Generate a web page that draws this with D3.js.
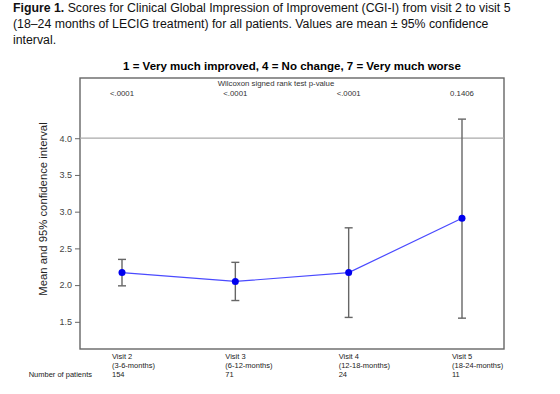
<!DOCTYPE html>
<html>
<head>
<meta charset="utf-8">
<script src="https://cdn.jsdelivr.net/npm/d3@7"></script>
<style>
body { margin: 0; background: #fff; }
text { font-family: "Liberation Sans", Arial, sans-serif; }
</style>
</head>
<body>
<script>
// data
var visits = ["Visit 2", "Visit 3", "Visit 4", "Visit 5"];
var periods = ["(3-6-months)", "(6-12-months)", "(12-18-months)", "(18-24-months)"];
var patients = [154, 71, 24, 11];
var pValues = ["<.0001", "<.0001", "<.0001", "0.1406"];
var means = [2.17, 2.05, 2.17, 2.91];
var lower = [1.99, 1.79, 1.56, 1.55];
var upper = [2.35, 2.31, 2.78, 4.26];
var yTicks = [1.5, 2.0, 2.5, 3.0, 3.5, 4.0];

var W = 560, H = 394;
var plot = { left: 80, right: 504, top: 78, bottom: 349 };

var svg = d3.select("body").append("svg")
   .attr("width", W)
   .attr("height", H);

// caption
var cap = svg.append("text").attr("x", 13).attr("y", 12).style("font-size", "12.3px").attr("fill", "#111");
cap.append("tspan").style("font-weight", "bold").text("Figure 1.");
cap.append("tspan").text(" Scores for Clinical Global Impression of Improvement (CGI-I) from visit 2 to visit 5");
svg.append("text").attr("x", 13).attr("y", 28).style("font-size", "12.3px").attr("fill", "#111")
   .text("(18\u201324 months of LECIG treatment) for all patients. Values are mean \u00b1 95% confidence");
svg.append("text").attr("x", 13).attr("y", 44).style("font-size", "12.3px").attr("fill", "#111")
   .text("interval.");

var x = d3.scalePoint().domain(visits).range([122, 462]);
var y = d3.scaleLinear().domain([1.13, 4.82]).range([plot.bottom, plot.top]);

// chart title
svg.append("text")
   .attr("x", (plot.left + plot.right) / 2).attr("y", 70)
   .attr("text-anchor", "middle")
   .style("font-size", "11.5px").style("font-weight", "bold")
   .text("1 = Very much improved, 4  = No change, 7 = Very much worse");

// frame
svg.append("rect")
   .attr("x", plot.left).attr("y", plot.top)
   .attr("width", plot.right - plot.left).attr("height", plot.bottom - plot.top)
   .attr("fill", "none").attr("stroke", "#666").attr("stroke-width", 1.4);

// reference line at 4
svg.append("line")
   .attr("x1", plot.left).attr("x2", plot.right)
   .attr("y1", y(4)).attr("y2", y(4))
   .attr("stroke", "#aaa").attr("stroke-width", 1.2);

// y axis
var yAxis = d3.axisLeft(y).tickValues(yTicks).tickFormat(d3.format(".1f")).tickSize(5).tickPadding(3);
var ga = svg.append("g").attr("transform", "translate(" + plot.left + ",0)").call(yAxis);
ga.select(".domain").remove();
ga.selectAll("line").attr("stroke", "#666");
ga.selectAll("text").style("font-size", "9px").attr("fill", "#444").style("font-family", "Liberation Sans, Arial, sans-serif");

svg.append("text")
   .attr("transform", "translate(43," + 209 + ") rotate(-90)")
   .attr("text-anchor", "middle").attr("dy", "0.35em")
   .style("font-size", "11.3px").attr("fill", "#222")
   .text("Mean and 95% confidence interval");

// p-values
svg.append("text")
   .attr("x", 276).attr("y", 86)
   .attr("text-anchor", "middle")
   .style("font-size", "7.8px").attr("fill", "#333")
   .text("Wilcoxon signed rank test p-value");
svg.selectAll(".pval").data(pValues).enter().append("text")
   .attr("class", "pval")
   .attr("x", function(d, i) { return x(visits[i]); })
   .attr("y", 96)
   .attr("text-anchor", "middle")
   .style("font-size", "7.8px").attr("fill", "#333")
   .text(function(d) { return d; });

// error bars
var bars = svg.selectAll(".err").data(visits).enter().append("g").attr("class", "err")
   .attr("stroke", "#666").attr("stroke-width", 1.4);
bars.append("line")
   .attr("x1", function(d) { return x(d); }).attr("x2", function(d) { return x(d); })
   .attr("y1", function(d, i) { return y(lower[i]); })
   .attr("y2", function(d, i) { return y(upper[i]); });
bars.append("line")
   .attr("x1", function(d) { return x(d) - 4; }).attr("x2", function(d) { return x(d) + 4; })
   .attr("y1", function(d, i) { return y(lower[i]); })
   .attr("y2", function(d, i) { return y(lower[i]); });
bars.append("line")
   .attr("x1", function(d) { return x(d) - 4; }).attr("x2", function(d) { return x(d) + 4; })
   .attr("y1", function(d, i) { return y(upper[i]); })
   .attr("y2", function(d, i) { return y(upper[i]); });

// mean line + points
var line = d3.line()
   .x(function(d, i) { return x(visits[i]); })
   .y(function(d) { return y(d); });
svg.append("path").datum(means)
   .attr("d", line)
   .attr("fill", "none").attr("stroke", "#4a4aff").attr("stroke-width", 1.2);
svg.selectAll(".pt").data(means).enter().append("circle")
   .attr("class", "pt")
   .attr("cx", function(d, i) { return x(visits[i]); })
   .attr("cy", function(d) { return y(d); })
   .attr("r", 3.5)
   .attr("fill", "#0000ee");

// x category labels
var lab = svg.selectAll(".xlab").data(visits).enter().append("g").attr("class", "xlab")
   .attr("transform", function(d) { return "translate(" + (x(d) - 10) + ",0)"; })
   .style("font-size", "7.5px").attr("fill", "#222");
lab.append("text").attr("y", 359).text(function(d) { return d; });
lab.append("text").attr("y", 368).text(function(d, i) { return periods[i]; });
lab.append("text").attr("y", 377).text(function(d, i) { return patients[i]; });

svg.append("text")
   .attr("x", 92).attr("y", 377)
   .attr("text-anchor", "end")
   .style("font-size", "7.5px").attr("fill", "#222")
   .text("Number of patients");
</script>
</body>
</html>
